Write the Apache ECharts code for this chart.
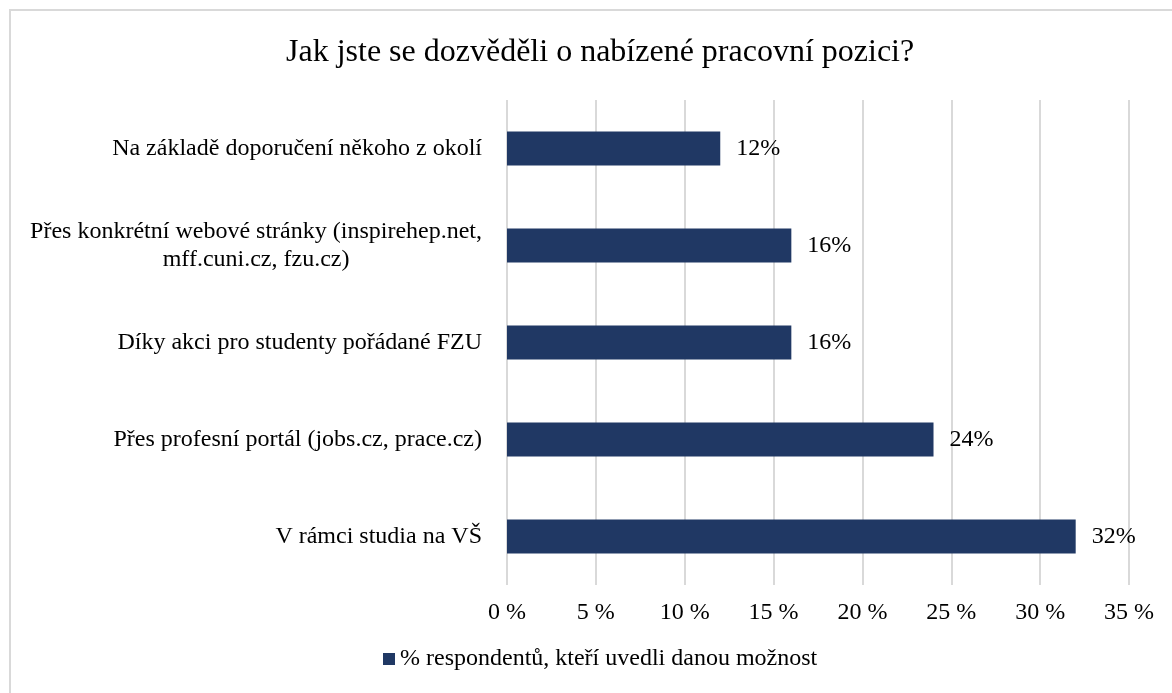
<!DOCTYPE html>
<html>
<head>
<meta charset="utf-8">
<script src="https://cdn.jsdelivr.net/npm/echarts@6/dist/echarts.min.js"></script>
<style>
  html, body { margin: 0; padding: 0; background: #fff; }
  #frame { position: absolute; left: 9px; top: 9px; width: 1200px; height: 720px; border: 2px solid #d9d9d9; box-sizing: border-box; }
  #chart { position: absolute; left: 0; top: 0; width: 1172px; height: 693px; }
</style>
</head>
<body>
<div id="frame"></div>
<div id="chart"></div>
<script>
  // kategorie odspodu nahoru (osa Y v echarts začíná dole)
  var categories = [
    'V rámci studia na VŠ',
    'Přes profesní portál (jobs.cz, prace.cz)',
    'Díky akci pro studenty pořádané FZU',
    'Přes konkrétní webové stránky (inspirehep.net,\nmff.cuni.cz, fzu.cz)',
    'Na základě doporučení někoho z okolí'
  ];
  var values = [32, 24, 16, 16, 12];
  var seriesName = '% respondentů, kteří uvedli danou možnost';
  var titleText = 'Jak jste se dozvěděli o nabízené pracovní pozici?';

  var font = '"Liberation Serif", "DejaVu Serif", serif';
  var chart = echarts.init(document.getElementById('chart'));

  var option = {
    animation: false,
    title: {
      text: titleText,
      left: 281,
      top: 32,
      textStyle: { fontFamily: font, fontSize: 32, fontWeight: 'normal', color: '#000' }
    },
    grid: { left: 507, right: 43, top: 100, bottom: 108 },
    legend: {
      data: [seriesName],
      bottom: 17,
      left: 378,
      icon: 'rect',
      itemWidth: 12,
      itemHeight: 12,
      itemGap: 6,
      textStyle: { fontFamily: font, fontSize: 24, color: '#000' }
    },
    xAxis: {
      type: 'value',
      min: 0,
      max: 35,
      interval: 5,
      axisLine: { show: false },
      axisTick: { show: false },
      splitLine: { lineStyle: { color: '#d9d9d9', width: 2 } },
      axisLabel: {
        formatter: '{value} %',
        margin: 16,
        fontFamily: font,
        fontSize: 24,
        color: '#000'
      }
    },
    yAxis: {
      type: 'category',
      data: categories,
      axisLine: { show: false },
      axisTick: { show: false },
      axisLabel: {
        margin: 25,
        fontFamily: font,
        fontSize: 24,
        color: '#000',
        lineHeight: 28,
        formatter: function (v) {
          return v.split('\n').map(function (s) { return '{c|' + s + '}'; }).join('\n');
        },
        rich: {
          c: { align: 'center', fontFamily: font, fontSize: 24, color: '#000', lineHeight: 28 }
        }
      }
    },
    series: [{
      name: seriesName,
      type: 'bar',
      data: values,
      barWidth: 34,
      itemStyle: { color: '#203864' },
      label: {
        show: true,
        position: 'right',
        distance: 16,
        formatter: '{c}%',
        fontFamily: font,
        fontSize: 24,
        color: '#000'
      }
    }]
  };
  chart.setOption(option);
</script>
</body>
</html>
